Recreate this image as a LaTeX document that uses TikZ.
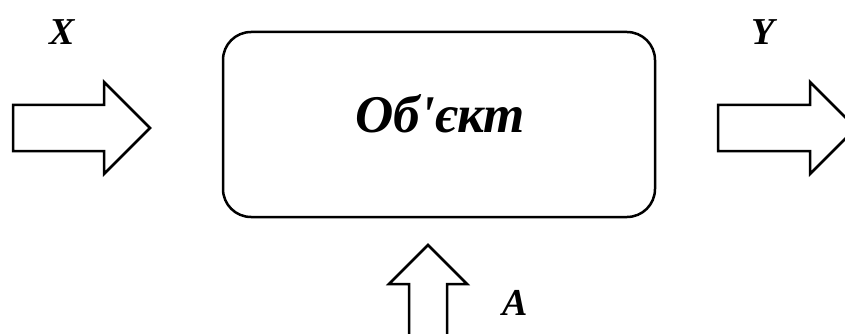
\documentclass[tikz,border=0pt]{standalone}
\usepackage{fontspec}
\setmainfont{Liberation Serif}
\begin{document}
\begin{tikzpicture}[x=1pt,y=-1pt,
  lw/.style={line width=2.5pt},
  blockarrow/.style={lw,draw=black,fill=white,line join=miter},
  lbl/.style={font=\fontsize{38}{40}\selectfont\bfseries\itshape,inner sep=0pt}]
\useasboundingbox (0,0) rectangle (845,334);
% object box
\node[lw,draw,rounded corners=28pt,minimum width=432pt,minimum height=185pt,inner sep=0pt] (obj) at (439,124.5) {};
\node[font=\fontsize{53}{55}\selectfont\bfseries\itshape,inner sep=0pt,anchor=base] (objtext) at (440,132) {Об\textquotesingle єкт};
% input arrow X
\draw[blockarrow] (13,105) -- (104,105) -- (104,82) -- (150,128) -- (104,174) -- (104,151) -- (13,151) -- cycle;
% output arrow Y
\draw[blockarrow] (718,105) -- (810,105) -- (810,82) -- (856,128) -- (810,174) -- (810,151) -- (718,151) -- cycle;
% parameter arrow A
\draw[blockarrow] (409,345) -- (409,284) -- (389,284) -- (428,245) -- (467,284) -- (447,284) -- (447,345);
% labels
\node[lbl,anchor=base] (lx) at (62,45) {X};
\node[lbl,anchor=base] (ly) at (763,45) {Y};
\node[lbl,anchor=base] (la) at (515,315) {A};
\end{tikzpicture}
\end{document}
